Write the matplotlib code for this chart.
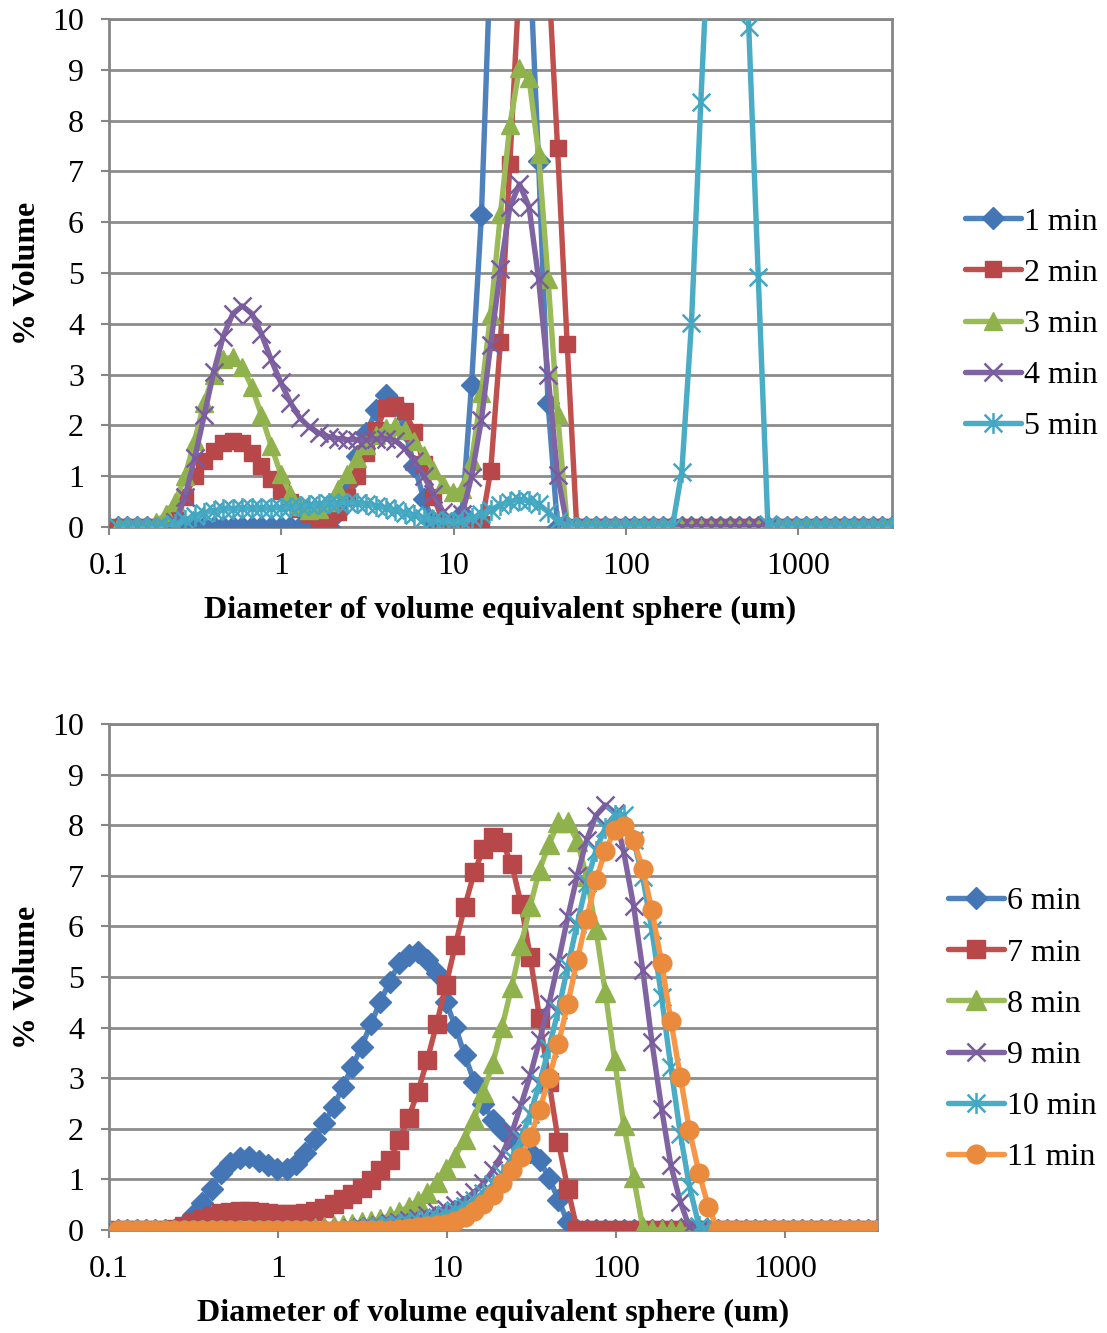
import matplotlib
matplotlib.use("Agg")
import matplotlib.pyplot as plt
from matplotlib.path import Path
from matplotlib.ticker import NullLocator, FixedLocator, FixedFormatter

plt.rcParams['font.family'] = ['Liberation Serif', 'DejaVu Serif']

# Size classes of the laser diffraction analyser (um)
size_um = [
    0.113, 0.128, 0.146, 0.166, 0.188, 0.214, 0.243, 0.276, 0.314, 0.357,
    0.405, 0.460, 0.523, 0.594, 0.675, 0.767, 0.872, 0.991, 1.13, 1.28,
    1.45, 1.65, 1.88, 2.13, 2.42, 2.75, 3.12, 3.55, 4.03, 4.58,
    5.21, 5.92, 6.72, 7.64, 8.68, 9.86, 11.2, 12.7, 14.5, 16.4,
    18.7, 21.2, 24.1, 27.4, 31.1, 35.3, 40.1, 45.6, 51.8, 58.9,
    66.9, 76.0, 86.4, 98.1, 111, 127, 144, 163, 186, 211,
    240, 272, 310, 352, 400, 454, 516, 586, 666, 756,
    859, 976, 1110, 1260, 1430, 1630, 1850, 2100, 2390, 2710,
    3080, 3500,
]

# % volume per size class, first set of sampling times
vol_1min = [
    0, 0, 0, 0, 0, 0, 0, 0, 0, 0,
    0, 0, 0, 0, 0, 0, 0, 0, 0, 0,
    0, 0, 0, 0.3, 0.85, 1.4, 1.85, 2.3, 2.6, 2.4,
    1.9, 1.2, 0.55, 0.1, 0, 0, 0.25, 2.8, 6.15, 11.3,
    14.0, 15.5, 14.5, 11.5, 7.2, 2.45, 0, 0, 0, 0,
    0, 0, 0, 0, 0, 0, 0, 0, 0, 0,
    0, 0, 0, 0, 0, 0, 0, 0, 0, 0,
    0, 0, 0, 0, 0, 0, 0, 0, 0, 0,
    0, 0,
]
vol_2min = [
    0, 0, 0, 0, 0, 0.05, 0.25, 0.6, 1.0, 1.3,
    1.5, 1.65, 1.7, 1.65, 1.45, 1.2, 0.95, 0.7, 0.5, 0.35,
    0.25, 0.18, 0.17, 0.3, 0.6, 1.0, 1.45, 1.9, 2.35, 2.4,
    2.28, 1.87, 1.24, 0.6, 0.1, 0, 0, 0, 0.05, 1.1,
    3.65, 7.15, 10.8, 12.2, 11.8, 11.1, 7.46, 3.6, 0, 0,
    0, 0, 0, 0, 0, 0, 0, 0, 0, 0,
    0, 0, 0, 0, 0, 0, 0, 0, 0, 0,
    0, 0, 0, 0, 0, 0, 0, 0, 0, 0,
    0, 0,
]
vol_3min = [
    0, 0, 0, 0, 0.1, 0.25, 0.5, 1.0, 1.7, 2.45,
    3.0, 3.3, 3.35, 3.15, 2.75, 2.2, 1.6, 1.05, 0.65, 0.42,
    0.33, 0.35, 0.5, 0.75, 1.05, 1.35, 1.62, 1.82, 1.95, 1.98,
    1.9, 1.7, 1.42, 1.12, 0.85, 0.68, 0.75, 1.3, 2.64, 4.2,
    6.16, 7.91, 9.04, 8.83, 7.35, 4.89, 2.22, 0.05, 0, 0,
    0, 0, 0, 0, 0, 0, 0, 0, 0, 0,
    0, 0, 0, 0, 0, 0, 0, 0, 0, 0,
    0, 0, 0, 0, 0, 0, 0, 0, 0, 0,
    0, 0,
]
vol_4min = [
    0, 0, 0, 0, 0, 0, 0.1, 0.6, 1.35, 2.2,
    3.05, 3.75, 4.2, 4.35, 4.2, 3.8, 3.3, 2.85, 2.45, 2.15,
    1.97, 1.85, 1.78, 1.74, 1.72, 1.72, 1.72, 1.73, 1.74, 1.7,
    1.55, 1.3, 1.0, 0.65, 0.3, 0.1, 0.25, 0.99, 2.11, 3.59,
    5.07, 6.3, 6.75, 6.3, 4.89, 2.99, 1.02, 0.02, 0, 0,
    0, 0, 0, 0, 0, 0, 0, 0, 0, 0,
    0, 0, 0, 0, 0, 0, 0, 0, 0, 0,
    0, 0, 0, 0, 0, 0, 0, 0, 0, 0,
    0, 0,
]
vol_5min = [
    0, 0, 0, 0, 0, 0, 0.05, 0.13, 0.22, 0.28,
    0.32, 0.35, 0.36, 0.37, 0.37, 0.37, 0.37, 0.38, 0.39, 0.41,
    0.43, 0.45, 0.47, 0.48, 0.48, 0.47, 0.45, 0.42, 0.38, 0.33,
    0.28, 0.23, 0.18, 0.14, 0.11, 0.1, 0.12, 0.17, 0.25, 0.34,
    0.43, 0.5, 0.53, 0.52, 0.45, 0.3, 0.12, 0.02, 0, 0,
    0, 0, 0, 0, 0, 0, 0, 0, 0, 1.09,
    4.01, 8.37, 12.5, 15.5, 15.8, 13.5, 9.85, 4.93, 0.05, 0,
    0, 0, 0, 0, 0, 0, 0, 0, 0, 0,
    0, 0,
]

# % volume per size class, second set of sampling times
vol_6min = [
    0, 0, 0, 0, 0, 0, 0, 0.1, 0.3, 0.53,
    0.82, 1.12, 1.32, 1.42, 1.45, 1.37, 1.28, 1.2, 1.2, 1.3,
    1.52, 1.79, 2.11, 2.44, 2.83, 3.23, 3.62, 4.08, 4.51, 4.91,
    5.27, 5.43, 5.5, 5.34, 5.07, 4.51, 4.02, 3.46, 2.93, 2.5,
    2.17, 1.98, 1.82, 1.7, 1.55, 1.38, 1.03, 0.6, 0.15, 0,
    0, 0, 0, 0, 0, 0, 0, 0, 0, 0,
    0, 0, 0, 0, 0, 0, 0, 0, 0, 0,
    0, 0, 0, 0, 0, 0, 0, 0, 0, 0,
    0, 0,
]
vol_7min = [
    0, 0, 0, 0, 0, 0, 0.02, 0.08, 0.15, 0.22,
    0.28, 0.33, 0.36, 0.37, 0.37, 0.35, 0.33, 0.32, 0.31, 0.32,
    0.34, 0.38, 0.43, 0.52, 0.61, 0.72, 0.83, 0.99, 1.19, 1.38,
    1.78, 2.22, 2.73, 3.36, 4.07, 4.84, 5.63, 6.38, 7.07, 7.53,
    7.76, 7.66, 7.24, 6.45, 5.39, 4.18, 2.93, 1.74, 0.82, 0,
    0, 0, 0, 0, 0, 0, 0, 0, 0, 0,
    0, 0, 0, 0, 0, 0, 0, 0, 0, 0,
    0, 0, 0, 0, 0, 0, 0, 0, 0, 0,
    0, 0,
]
vol_8min = [
    0, 0, 0, 0, 0, 0, 0, 0, 0, 0,
    0, 0, 0, 0, 0, 0, 0, 0, 0, 0,
    0, 0.03, 0.06, 0.08, 0.1, 0.12, 0.15, 0.18, 0.22, 0.28,
    0.36, 0.46, 0.58, 0.74, 0.95, 1.2, 1.45, 1.8, 2.2, 2.73,
    3.3, 4.02, 4.8, 5.63, 6.41, 7.12, 7.62, 8.06, 8.06, 7.68,
    7.0, 5.95, 4.7, 3.36, 2.08, 1.04, 0.05, 0, 0, 0,
    0, 0, 0, 0, 0, 0, 0, 0, 0, 0,
    0, 0, 0, 0, 0, 0, 0, 0, 0, 0,
    0, 0,
]
vol_9min = [
    0, 0, 0, 0, 0, 0, 0, 0, 0, 0,
    0, 0, 0, 0, 0, 0, 0, 0, 0, 0,
    0, 0, 0, 0, 0.02, 0.04, 0.06, 0.08, 0.1, 0.13,
    0.16, 0.2, 0.24, 0.29, 0.35, 0.42, 0.5, 0.6, 0.75, 0.92,
    1.18, 1.5, 1.91, 2.47, 3.06, 3.75, 4.47, 5.3, 6.18, 7.0,
    7.7, 8.19, 8.4, 8.25, 7.47, 6.41, 5.13, 3.72, 2.4, 1.28,
    0.56, 0.05, 0, 0, 0, 0, 0, 0, 0, 0,
    0, 0, 0, 0, 0, 0, 0, 0, 0, 0,
    0, 0,
]
vol_10min = [
    0, 0, 0, 0, 0, 0, 0, 0, 0, 0,
    0, 0, 0, 0, 0, 0, 0, 0, 0, 0,
    0, 0, 0, 0, 0, 0, 0.03, 0.05, 0.07, 0.09,
    0.11, 0.14, 0.17, 0.21, 0.26, 0.32, 0.39, 0.48, 0.6, 0.74,
    0.9, 1.1, 1.42, 1.8, 2.3, 2.9, 3.6, 4.35, 5.2, 6.05,
    6.85, 7.5, 7.95, 8.2, 8.2, 7.7, 6.97, 5.92, 4.6, 3.22,
    1.9, 0.86, 0.07, 0, 0, 0, 0, 0, 0, 0,
    0, 0, 0, 0, 0, 0, 0, 0, 0, 0,
    0, 0,
]
vol_11min = [
    0, 0, 0, 0, 0, 0, 0, 0, 0, 0,
    0, 0, 0, 0, 0, 0, 0, 0, 0, 0,
    0, 0, 0, 0, 0, 0, 0, 0, 0, 0,
    0.02, 0.03, 0.05, 0.07, 0.09, 0.12, 0.17, 0.26, 0.38, 0.52,
    0.7, 0.92, 1.18, 1.45, 1.84, 2.37, 3.0, 3.68, 4.47, 5.33,
    6.15, 6.91, 7.5, 7.9, 7.98, 7.7, 7.14, 6.32, 5.28, 4.14,
    3.03, 1.97, 1.12, 0.46, 0, 0, 0, 0, 0, 0,
    0, 0, 0, 0, 0, 0, 0, 0, 0, 0,
    0, 0,
]

labels_top = ['1 min', '2 min', '3 min', '4 min', '5 min']
labels_bottom = ['6 min', '7 min', '8 min', '9 min', '10 min', '11 min']
x_ticks = [0.1, 1, 10, 100, 1000]
x_tick_labels = ['0.1', '1', '10', '100', '1000']
y_ticks = [0, 1, 2, 3, 4, 5, 6, 7, 8, 9, 10]

# Office-style series palette: (line colour, marker colour)
palette = [
    ('#4F81BD', '#4475B4'),
    ('#C0504D', '#B8474A'),
    ('#9BBB59', '#8FB24C'),
    ('#8064A2', '#7A5C9E'),
    ('#4BACC6', '#44A7C2'),
    ('#F79646', '#E98A3C'),
]

# asterisk marker: vertical bar plus an x
star_path = Path(
    [(0, -1), (0, 1), (-0.85, -0.85), (0.85, 0.85), (-0.85, 0.85), (0.85, -0.85)],
    [Path.MOVETO, Path.LINETO] * 3,
)
markers = ['D', 's', '^', 'x', star_path, 'o']

GRID = '#8C8C8C'
AXIS = '#868686'
FS = 23

W, H = 1107, 1333
fig = plt.figure(figsize=(W / 100, H / 100), dpi=100)
ax_top = fig.add_axes([109 / W, 1 - 527 / H, 783 / W, 508 / H])
ax_bot = fig.add_axes([109 / W, 1 - 1230 / H, 768 / W, 506 / H])


def draw_series(ax, series, names, msizes, lw):
    for i, (vals, name) in enumerate(zip(series, names)):
        line_c, mark_c = palette[i]
        m = markers[i]
        unfilled = m in ('x',) or isinstance(m, Path)
        ax.plot(size_um, vals, color=line_c, lw=lw, marker=m,
                markersize=msizes[i],
                markerfacecolor='none' if unfilled else mark_c,
                markeredgecolor=mark_c,
                markeredgewidth=1.8 if unfilled else 1.0,
                solid_joinstyle='round', solid_capstyle='round',
                label=name, zorder=3 + i)


def style_axes(ax):
    ax.set_xscale('log')
    ax.set_xlim(0.1, 3500)
    ax.set_ylim(0, 10)
    ax.xaxis.set_major_locator(FixedLocator(x_ticks))
    ax.xaxis.set_major_formatter(FixedFormatter(x_tick_labels))
    ax.xaxis.set_minor_locator(NullLocator())
    ax.set_yticks(y_ticks)
    ax.set_yticklabels([str(v) for v in y_ticks])
    ax.yaxis.grid(True, color=GRID, lw=2.0, zorder=0)
    ax.set_axisbelow(True)
    for s in ax.spines.values():
        s.set_color(AXIS)
        s.set_linewidth(2.0)
    ax.tick_params(axis='both', direction='out', length=6, width=1.5,
                   color=AXIS, labelsize=FS, labelcolor='black')
    ax.tick_params(axis='x', pad=12)
    ax.tick_params(axis='y', pad=12)
    ax.set_xlabel('Diameter of volume equivalent sphere (um)',
                  fontsize=FS, fontweight='bold', labelpad=11)
    ax.set_ylabel('% Volume', fontsize=FS, fontweight='bold', labelpad=7)


draw_series(ax_top, [vol_1min, vol_2min, vol_3min, vol_4min, vol_5min],
            labels_top, [11, 12, 13, 13, 15], 3.9)
draw_series(ax_bot, [vol_6min, vol_7min, vol_8min, vol_9min, vol_10min, vol_11min],
            labels_bottom, [11.5, 13.5, 14, 13, 15, 13.5], 3.9)

for ax in (ax_top, ax_bot):
    style_axes(ax)

leg_kw = dict(loc='center left', frameon=False, fontsize=FS, handlelength=1.75,
              handletextpad=0.1, labelspacing=0.68, borderpad=0,
              borderaxespad=0, numpoints=1, bbox_transform=fig.transFigure)
ax_top.legend(bbox_to_anchor=(965 / W, 1 - 324 / H), **leg_kw)
ax_bot.legend(bbox_to_anchor=(948 / W, 1 - 1029.5 / H), **leg_kw)

fig.savefig('out.png', dpi=100, facecolor='white')
